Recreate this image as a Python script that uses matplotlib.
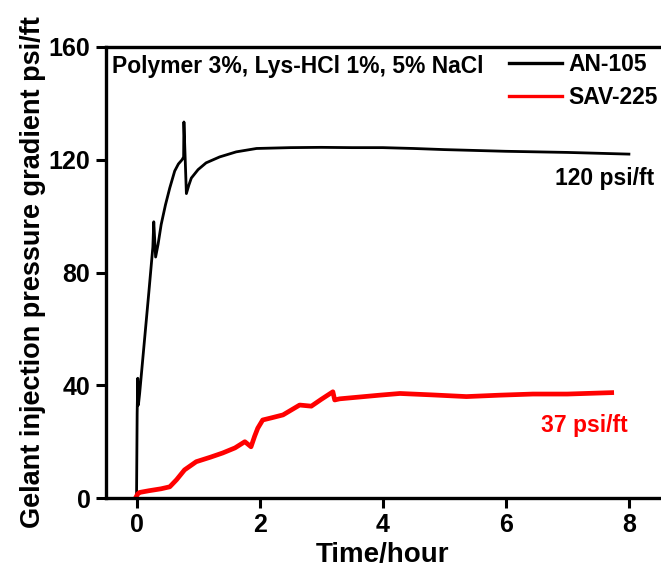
import matplotlib
matplotlib.use("Agg")
import matplotlib.pyplot as plt

# AN-105 (black)
an_t = [0.0, 0.01, 0.02, 0.03, 0.05, 0.10, 0.15, 0.20, 0.265, 0.28, 0.31, 0.35, 0.40, 0.47, 0.54, 0.62,
        0.68, 0.74, 0.765, 0.77, 0.81, 0.85, 0.89, 1.0, 1.13, 1.35, 1.62, 1.95, 2.5, 3.0, 3.5, 4.0, 4.5,
        5.0, 5.5, 6.0, 6.5, 7.0, 7.5, 8.0]
an_v = [0.0, 30, 42.5, 33, 37, 49, 61, 73, 89, 98, 85.5, 90, 97, 104, 110, 116,
        118.5, 120, 121, 133.4, 108, 111, 113.5, 116.5, 118.9, 121, 122.8, 124, 124.3, 124.4, 124.3, 124.3, 124,
        123.6, 123.3, 123, 122.8, 122.6, 122.3, 122]

# SAV-225 (red)
sav_t = [0.0, 0.02, 0.05, 0.2, 0.4, 0.54, 0.65, 0.78, 0.97, 1.2, 1.4, 1.6, 1.76, 1.86, 1.92, 1.97, 2.05,
         2.2, 2.38, 2.65, 2.84, 3.0, 3.19, 3.22, 3.3, 3.6, 3.95, 4.28, 4.8, 5.36, 5.9, 6.44, 7.0, 7.72]
sav_v = [0.7, 1.5, 2.0, 2.6, 3.3, 4.0, 6.5, 10, 12.9, 14.5, 16, 17.8, 20, 18.2, 22, 24.8, 27.7,
         28.5, 29.5, 33, 32.6, 35, 37.7, 34.8, 35.2, 35.8, 36.5, 37.1, 36.6, 36.0, 36.5, 36.9, 36.9, 37.4]

x_ticks = [0, 2, 4, 6, 8]
y_ticks = [0, 40, 80, 120, 160]

plt.rcParams['font.family'] = ['Liberation Sans', 'DejaVu Sans']
plt.rcParams['font.weight'] = 'bold'

fig = plt.figure(figsize=(6.61, 5.66), dpi=100)
ax = fig.add_axes([0.160, 0.120, 0.838, 0.797])

ax.plot(an_t, an_v, color='black', lw=2.0, label='AN-105')
ax.plot(sav_t, sav_v, color='#ff0000', lw=3.4, label='SAV-225')

ax.set_xlim(-0.5, 8.5)
ax.set_ylim(0, 160)
ax.set_xticks(x_ticks)
ax.set_yticks(y_ticks)
ax.tick_params(direction='out', length=7, width=2.2, labelsize=18, pad=4)
for lab in ax.get_xticklabels() + ax.get_yticklabels():
    lab.set_fontweight('bold')
for s in ['left', 'bottom', 'top']:
    ax.spines[s].set_linewidth(2.4)
ax.spines['right'].set_visible(False)

ax.set_xlabel('Time/hour', fontsize=20, fontweight='bold', labelpad=3)
ax.set_ylabel('Gelant injection pressure gradient psi/ft', fontsize=19.5, fontweight='bold', labelpad=2)

ax.text(0.012, 0.957, 'Polymer 3%, Lys-HCl 1%, 5% NaCl', transform=ax.transAxes,
        fontsize=16.5, fontweight='bold', va='center', ha='left')

leg = ax.legend(loc='upper right', bbox_to_anchor=(0.996, 0.987), frameon=False, fontsize=16.5,
                handlelength=2.3, handletextpad=0.26, labelspacing=0.45, borderaxespad=0, borderpad=0)
for t in leg.get_texts():
    t.set_fontweight('bold')
for h in leg.get_lines():
    h.set_linewidth(2.4)

ax.text(6.8, 113.5, '120 psi/ft', fontsize=16.5, fontweight='bold', color='black', va='center')
ax.text(6.57, 25.9, '37 psi/ft', fontsize=16.5, fontweight='bold', color='#ff0000', va='center')

fig.savefig('out.png', dpi=100)
